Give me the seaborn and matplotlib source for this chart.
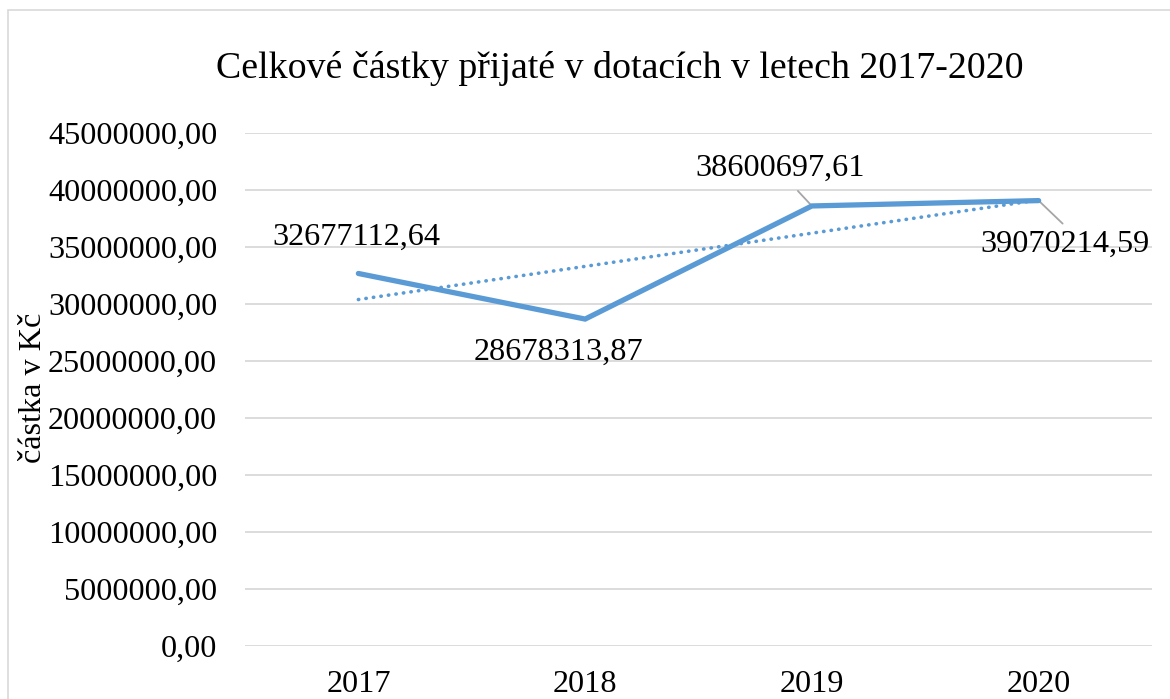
import numpy as np
import pandas as pd
import matplotlib
matplotlib.use("Agg")
import matplotlib.pyplot as plt
from matplotlib.patches import Rectangle
import seaborn as sns

# Data
years = ["2017", "2018", "2019", "2020"]
amounts = [32677112.64, 28678313.87, 38600697.61, 39070214.59]
label_texts = ["32677112,64", "28678313,87", "38600697,61", "39070214,59"]
y_ticks = [0, 5000000, 10000000, 15000000, 20000000, 25000000,
           30000000, 35000000, 40000000, 45000000]
title = "Celkové částky přijaté v dotacích v letech 2017-2020"
ylabel = "částka v Kč"

sns.set_theme(style="white")
plt.rcParams["font.family"] = ["Liberation Serif", "DejaVu Serif"]

W, H = 1170, 699
fig = plt.figure(figsize=(W / 100, H / 100), dpi=100)
fig.patch.set_facecolor("white")

# chart border
fig.add_artist(Rectangle((8 / W, -0.1), 1.2, 1 - 10 / H + 0.1,
                         transform=fig.transFigure, fill=False,
                         edgecolor="#D9D9D9", lw=1.2))

left, right = 245 / W, 1152 / W
bottom, top = 1 - 646 / H, 1 - 133 / H
ax = fig.add_axes([left, bottom, right - left, top - bottom])

df = pd.DataFrame({"pos": np.arange(len(years)), "amount": amounts})
color = "#5B9BD5"
fs = 23.2

# gridlines
for t in y_ticks:
    ax.axhline(t, color="#D9D9D9", lw=1.3, zorder=0)

sns.lineplot(data=df, x="pos", y="amount", ax=ax, color=color, lw=3.8,
             solid_capstyle="round", solid_joinstyle="miter", zorder=3)

# linear trendline (as Excel)
coef = np.polyfit(df["pos"], df["amount"], 1)
trend = np.polyval(coef, df["pos"])
sns.lineplot(x=df["pos"], y=trend, ax=ax, color=color, lw=2.6,
             linestyle=(0, (0.1, 2.0)), dash_capstyle="round", zorder=2)

ax.set_xlim(-0.5, len(years) - 0.5)
ax.set_ylim(0, 45000000)
ax.set_xticks(df["pos"])
ax.set_xticklabels(years)
ax.set_yticks(y_ticks)
ax.set_yticklabels([f"{v},00" for v in y_ticks])
ax.tick_params(axis="both", length=0, labelsize=fs, colors="black")
ax.tick_params(axis="x", pad=17)
ax.tick_params(axis="y", pad=20)
ax.set_xlabel("")
ax.set_ylabel("")
for s in ax.spines.values():
    s.set_visible(False)
ax.set_facecolor("none")

# data labels (offsets in pixels)
offsets = [(-2, 36), (-27, -33), (-32, 38), (26, -44)]
leaders = [None, None, (-14, 15), (24, -23)]
for i, (txt, off, ld) in enumerate(zip(label_texts, offsets, leaders)):
    ax.annotate(txt, xy=(i, amounts[i]), xytext=off, textcoords="offset pixels",
                ha="center", va="center", fontsize=fs, color="black", zorder=5)
    if ld is not None:
        ax.annotate("", xy=(i, amounts[i]), xytext=ld, textcoords="offset pixels",
                    arrowprops=dict(arrowstyle="-", color="#A6A6A6", lw=1.3,
                                    shrinkA=0, shrinkB=0), zorder=1)

fig.text(620 / W, 1 - 69 / H, title, ha="center", va="center", fontsize=27.3,
         color="black")
fig.text(34 / W, 1 - 388 / H, ylabel, ha="center", va="center", rotation=90,
         fontsize=fs, color="black")

fig.savefig("out.png", dpi=100, facecolor="white")
